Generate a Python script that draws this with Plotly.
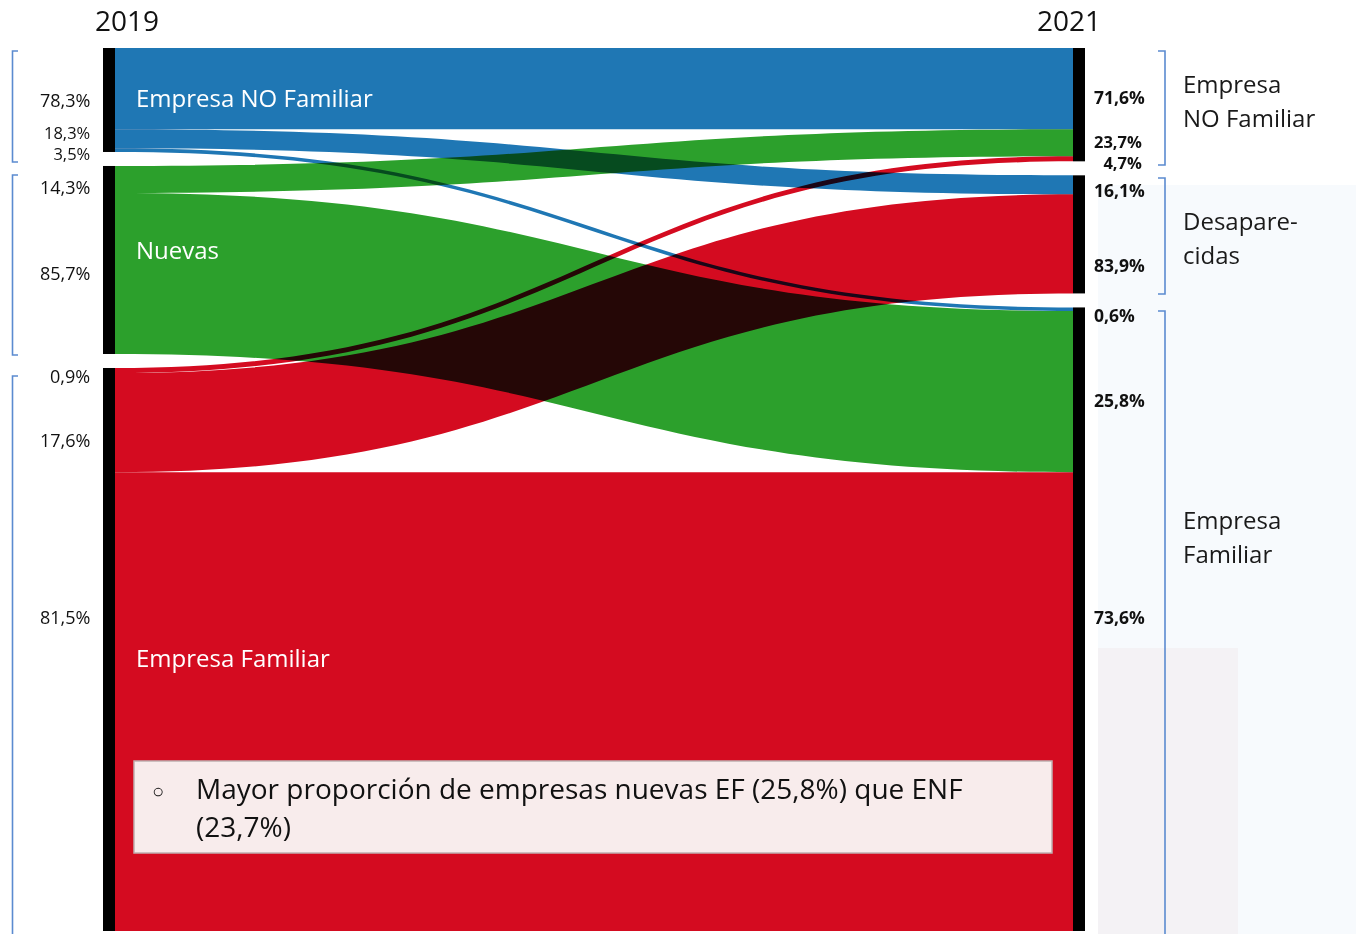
import plotly.graph_objects as go

# ---------------- data ----------------
years = ["2019", "2021"]
left_nodes = ["Empresa NO Familiar", "Nuevas", "Empresa Familiar"]
right_nodes = ["Empresa NO Familiar", "Desaparecidas", "Empresa Familiar"]
right_node_lines = [["Empresa", "NO Familiar"], ["Desapare-", "cidas"], ["Empresa", "Familiar"]]

# flows: source (left node index) -> target (right node index)
link_source = [0, 0, 0, 1, 1, 2, 2, 2]
link_target = [0, 1, 2, 0, 2, 0, 1, 2]
link_value = [783, 183, 35, 259, 1551, 49, 954, 4417]

left_pct = ["78,3%", "18,3%", "3,5%", "14,3%", "85,7%", "0,9%", "17,6%", "81,5%"]
right_pct = ["71,6%", "23,7%", "4,7%", "16,1%", "83,9%", "0,6%", "25,8%", "73,6%"]
note_lines = ["Mayor proporción de empresas nuevas EF (25,8%) que ENF", "(23,7%)"]

# ---------------- layout / style ----------------
W, H = 1362, 934
X0, X1, Y0, Y1 = 103, 1085, 48, 931          # sankey area in px
THICK, PAD = 12, 14
source_colors = ["rgb(31,119,180)", "rgb(44,160,44)", "rgb(212,11,32)"]
FONT = "Open Sans"
bracket_color = "#5b8bd0"

# label groups: (indices into the pct list, y center px); tightly stacked labels share one text block
left_pct_groups = [([0], 100), ([1, 2], 143), ([3], 187), ([4], 273), ([5], 376), ([6], 440), ([7], 617)]
right_pct_groups = [([0], 97), ([1, 2], 151.5), ([3], 190), ([4], 265), ([5], 315), ([6], 400), ([7], 617)]
left_label_y = [97, 249, 657]
right_label_y = [(83, 117), (220, 254), (519, 553)]
left_brackets = [(51, 162), (175, 355), (376, 945)]
right_brackets = [(51, 165), (178, 294), (311, 945)]


def px(x):
    return x / W


def py(y):
    return 1 - y / H


# node positions (centers) following the sankey packing of the values
SW, SH = X1 - X0, Y1 - Y0
n_left = len(left_nodes)
left_tot = [sum(v for s, v in zip(link_source, link_value) if s == i) for i in range(n_left)]
right_tot = [sum(v for t, v in zip(link_target, link_value) if t == i) for i in range(len(right_nodes))]
ky = min((SH - (len(c) - 1) * PAD) / sum(c) for c in (left_tot, right_tot))


def centers(tots):
    out, top = [], 0.0
    for v in tots:
        h = v * ky
        out.append((top + h / 2) / SH)
        top += h + PAD
    return out


node_x = [THICK / 2 / SW] * n_left + [1 - THICK / 2 / SW] * len(right_nodes)
node_y = centers(left_tot) + centers(right_tot)

fig = go.Figure(go.Sankey(
    arrangement="fixed",
    domain=dict(x=[px(X0), px(X1)], y=[py(Y1), py(Y0)]),
    node=dict(
        label=left_nodes + right_nodes,
        x=node_x, y=node_y,
        pad=PAD, thickness=THICK,
        color="black",
        line=dict(width=0),
    ),
    link=dict(
        source=link_source,
        target=[t + n_left for t in link_target],
        value=link_value,
        color=[source_colors[s] for s in link_source],
        line=dict(width=0),
    ),
    textfont=dict(color="rgba(0,0,0,0)", size=1),
    hoverinfo="none",
))

ann = []
# years
ann.append(dict(x=px(127), y=py(20), text=years[0], font=dict(size=28, color="#111")))
ann.append(dict(x=px(1069), y=py(20), text=years[1], font=dict(size=28, color="#111")))
# left percentages
for idx, y in left_pct_groups:
    txt = "<br>".join(left_pct[i] for i in idx)
    ann.append(dict(x=px(92), y=py(y), text=txt, xanchor="right", align="right",
                    font=dict(size=18 if len(idx) == 1 else 16.5, color="#111")))
# right percentages
for idx, y in right_pct_groups:
    txt = "<br>".join("<b>" + right_pct[i] + "</b>" for i in idx)
    ann.append(dict(x=px(1092), y=py(y), text=txt, xanchor="left", align="right",
                    font=dict(size=17.5 if len(idx) == 1 else 16.5, color="#111")))
# left node labels (white, inside flows)
for t, y in zip(left_nodes, left_label_y):
    ann.append(dict(x=px(134), y=py(y), text=t, xanchor="left", font=dict(size=24, color="white")))
# right node labels
for lines, ys in zip(right_node_lines, right_label_y):
    for t, y in zip(lines, ys):
        ann.append(dict(x=px(1181), y=py(y), text=t, xanchor="left", font=dict(size=24, color="#1a1a1a")))
# note box text
ann.append(dict(x=px(158), y=py(790), text="○", font=dict(size=20, color="#111")))
for t, y in zip(note_lines, [788, 826]):
    ann.append(dict(x=px(194), y=py(y), text=t, xanchor="left", font=dict(size=28, color="#111")))

for a in ann:
    a.update(xref="paper", yref="paper", showarrow=False, yanchor="middle")
    a.setdefault("xanchor", "center")

shapes = []
# faint watermark at right
shapes.append(dict(type="rect", xref="paper", yref="paper", x0=px(1098), x1=px(1356), y0=py(934), y1=py(185),
                   fillcolor="#f7fafd", line=dict(width=0), layer="below"))
shapes.append(dict(type="rect", xref="paper", yref="paper", x0=px(1098), x1=px(1238), y0=py(934), y1=py(648),
                   fillcolor="#f4f2f5", line=dict(width=0), layer="below"))
# brackets
for (a, b) in left_brackets:
    shapes.append(dict(type="path", xref="paper", yref="paper",
                       path=f"M {px(18)},{py(a)} L {px(12.5)},{py(a)} L {px(12.5)},{py(b)} L {px(18)},{py(b)}",
                       line=dict(color=bracket_color, width=1.6)))
for (a, b) in right_brackets:
    shapes.append(dict(type="path", xref="paper", yref="paper",
                       path=f"M {px(1158)},{py(a)} L {px(1165)},{py(a)} L {px(1165)},{py(b)} L {px(1158)},{py(b)}",
                       line=dict(color=bracket_color, width=1.6)))
# note box
shapes.append(dict(type="rect", xref="paper", yref="paper", x0=px(134), x1=px(1052), y0=py(853), y1=py(761),
                   fillcolor="#f8ecec", line=dict(color="#bfb0b0", width=1.5), layer="above"))

fig.update_layout(
    width=W, height=H,
    margin=dict(l=0, r=0, t=0, b=0),
    paper_bgcolor="white", plot_bgcolor="white",
    font=dict(family=FONT),
    annotations=ann,
    shapes=shapes,
    showlegend=False,
)

post = """
document.body.style.margin = '0';
document.body.style.overflow = 'hidden';
var gd = document.getElementById('{plot_id}');
gd.querySelectorAll('.sankey-link').forEach(function(p){ p.style.mixBlendMode = 'multiply'; });
"""
fig.write_html("out.html", post_script=post, config={"displayModeBar": False})
